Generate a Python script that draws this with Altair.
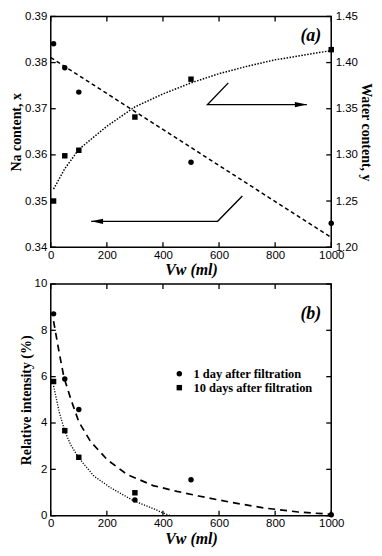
import altair as alt
import pandas as pd

# ---------------- Panel (a) data ----------------
vw_na = [10, 50, 100, 500, 1000]
na_content = [0.3841, 0.3789, 0.3736, 0.3584, 0.3452]
vw_water = [10, 50, 100, 300, 500, 1000]
water_content = [1.250, 1.299, 1.305, 1.341, 1.382, 1.414]
na_fit_x = [0, 1000]
na_fit_y = [0.3811, 0.3421]
water_fit_x = [10, 50, 100, 200, 300, 400, 500, 600, 700, 800, 900, 1000]
water_fit_y = [1.263, 1.285, 1.306, 1.331, 1.352, 1.366, 1.378, 1.388, 1.396, 1.403, 1.408, 1.413]
arrow_right_x = [633, 559, 913]
arrow_right_y = [0.3756, 0.3709, 0.3709]
arrow_left_x = [683, 595, 144]
arrow_left_y = [0.3511, 0.3456, 0.3456]

# ---------------- Panel (b) data ----------------
vw_b1 = [10, 50, 100, 300, 500, 1000]
day1 = [8.71, 5.90, 4.58, 0.68, 1.55, 0.04]
vw_b10 = [10, 50, 100, 300]
day10 = [5.79, 3.67, 2.52, 0.99]
day1_fit_x = [10, 30, 47, 71, 100, 142, 201, 272, 365, 450, 527, 645, 763, 882, 1000]
day1_fit_y = [8.4, 7.04, 5.97, 5.05, 4.05, 3.2, 2.42, 1.78, 1.3, 1.05, 0.85, 0.57, 0.33, 0.16, 0.06]
day10_fit_x = [10, 30, 50, 71, 100, 154, 213, 296, 367, 400, 428]
day10_fit_y = [5.6, 4.48, 3.65, 3.06, 2.49, 1.71, 1.21, 0.64, 0.3, 0.12, 0.0]
series_names = ["1 day after filtration", "10 days after filtration"]

# ---------------- ticks ----------------
x_ticks = [0, 200, 400, 600, 800, 1000]
na_ticks = [0.34, 0.35, 0.36, 0.37, 0.38, 0.39]
water_ticks = [1.20, 1.25, 1.30, 1.35, 1.40, 1.45]
rel_ticks = [0, 2, 4, 6, 8, 10]

W, H1, H2 = 282, 232, 233
TL = 5
SANS = "Liberation Sans"
SERIF = "Liberation Serif"


def mk_axis(orient, values, fmt, title, label_pad=4, title_pad=1, italic=False, title_size=14):
    kw = dict(orient=orient, values=values, format=fmt, title=title, ticks=False,
              domain=False, grid=False, labelFont=SANS, labelFontSize=11.5,
              labelColor="black", labelPadding=label_pad, labelFlush=False,
              labelOverlap=False, titleFont=SERIF, titleFontSize=title_size,
              titleFontWeight="bold", titleColor="black", titlePadding=title_pad)
    if italic:
        kw["titleFontStyle"] = "italic"
    return alt.Axis(**kw)


x_scale = alt.Scale(domain=[0, 1000], nice=False, zero=False)
x_axis = mk_axis("bottom", x_ticks, "d", "Vw (ml)", label_pad=2, title_pad=1, italic=True, title_size=16)
na_scale = alt.Scale(domain=[0.34, 0.39], nice=False, zero=False)
na_axis = mk_axis("left", na_ticks, ".2f", "Na content, x", title_pad=1)
wa_scale = alt.Scale(domain=[1.20, 1.45], nice=False, zero=False)
wa_axis = mk_axis("right", water_ticks, ".2f", "Water content, y", title_pad=1)
rel_scale = alt.Scale(domain=[0, 10], nice=False, zero=False)
rel_axis = mk_axis("left", rel_ticks, "d", "Relative intensity (%)", title_pad=1)


def X(field="x"):
    return alt.X(f"{field}:Q", scale=x_scale, axis=x_axis)


def Yna():
    return alt.Y("y:Q", scale=na_scale, axis=na_axis)


def Ywa():
    return alt.Y("y:Q", scale=wa_scale, axis=wa_axis)


def Yrel():
    return alt.Y("y:Q", scale=rel_scale, axis=rel_axis)


# ---------- Panel (a) layers ----------
na_pts = alt.Chart(pd.DataFrame({"x": vw_na, "y": na_content})).mark_point(
    shape="circle", filled=True, color="black", size=30, opacity=1).encode(x=X(), y=Yna())
na_line = alt.Chart(pd.DataFrame({"x": na_fit_x, "y": na_fit_y})).mark_line(
    color="black", strokeWidth=1.5, strokeDash=[4, 3]).encode(x=X(), y=Yna())

arr_r = pd.DataFrame({"x": arrow_right_x, "y": arrow_right_y, "o": [0, 1, 2]})
arr_l = pd.DataFrame({"x": arrow_left_x, "y": arrow_left_y, "o": [0, 1, 2]})
arrow_r_line = alt.Chart(arr_r).mark_line(color="black", strokeWidth=1.4).encode(
    x=X(), y=Yna(), order="o:Q")
arrow_l_line = alt.Chart(arr_l).mark_line(color="black", strokeWidth=1.4).encode(
    x=X(), y=Yna(), order="o:Q")
arrow_r_head = alt.Chart(arr_r.iloc[[2]]).mark_point(
    shape="M0,0L-2,-0.45L-2,0.45Z", filled=True, color="black", size=144, opacity=1).encode(x=X(), y=Yna())
arrow_l_head = alt.Chart(arr_l.iloc[[2]]).mark_point(
    shape="M0,0L2,-0.45L2,0.45Z", filled=True, color="black", size=144, opacity=1).encode(x=X(), y=Yna())

na_tick_df = pd.DataFrame({"y": na_ticks})
na_ticks_l = alt.Chart(na_tick_df).mark_rule(color="black", strokeWidth=1.3).encode(
    y=Yna(), x=alt.value(0), x2=alt.value(TL))
xt_df = pd.DataFrame({"x": x_ticks})
xt_bot_a = alt.Chart(xt_df).mark_rule(color="black", strokeWidth=1.3).encode(
    x=X(), y=alt.value(H1), y2=alt.value(H1 - TL))
xt_top_a = alt.Chart(xt_df).mark_rule(color="black", strokeWidth=1.3).encode(
    x=X(), y=alt.value(0), y2=alt.value(TL))
label_a = alt.Chart(pd.DataFrame({"t": ["(a)"]})).mark_text(
    align="right", baseline="middle", font=SERIF, fontSize=18, fontWeight="bold",
    fontStyle="italic", color="black").encode(x=alt.value(W - 10), y=alt.value(20), text="t:N")

na_group = alt.layer(na_line, na_pts, arrow_r_line, arrow_l_line, arrow_r_head, arrow_l_head,
                     na_ticks_l, xt_bot_a, xt_top_a, label_a)

wa_pts = alt.Chart(pd.DataFrame({"x": vw_water, "y": water_content})).mark_point(
    shape="square", filled=True, color="black", size=30, opacity=1).encode(x=X(), y=Ywa())
wa_line = alt.Chart(pd.DataFrame({"x": water_fit_x, "y": water_fit_y})).mark_line(
    color="black", strokeWidth=1.5, strokeDash=[1.5, 1.5]).encode(x=X(), y=Ywa())
wa_ticks_r = alt.Chart(pd.DataFrame({"y": water_ticks})).mark_rule(color="black", strokeWidth=1.3).encode(
    y=Ywa(), x=alt.value(W - TL), x2=alt.value(W))
wa_group = alt.layer(wa_line, wa_pts, wa_ticks_r)

top = alt.layer(na_group, wa_group).resolve_scale(y="independent").properties(width=W, height=H1)

# ---------- Panel (b) layers ----------
pts_b = pd.DataFrame({
    "x": vw_b1 + vw_b10,
    "y": day1 + day10,
    "series": [series_names[0]] * len(vw_b1) + [series_names[1]] * len(vw_b10),
})
b_pts = alt.Chart(pts_b).mark_point(filled=True, color="black", size=30, opacity=1).encode(
    x=X(), y=Yrel(),
    shape=alt.Shape("series:N", scale=alt.Scale(domain=series_names, range=["circle", "square"]),
                    legend=alt.Legend(orient="none", legendX=123, legendY=353, title=None,
                                      labelFont=SERIF, labelFontSize=12.5, labelFontWeight="bold",
                                      labelColor="black", symbolFillColor="black",
                                      symbolStrokeWidth=0, symbolSize=30, labelOffset=8,
                                      rowPadding=1, padding=0)))
b_line1 = alt.Chart(pd.DataFrame({"x": day1_fit_x, "y": day1_fit_y})).mark_line(
    color="black", strokeWidth=1.7, strokeDash=[7, 5]).encode(x=X(), y=Yrel())
b_line10 = alt.Chart(pd.DataFrame({"x": day10_fit_x, "y": day10_fit_y})).mark_line(
    color="black", strokeWidth=1.3, strokeDash=[1.2, 1.5]).encode(x=X(), y=Yrel())
rel_tick_df = pd.DataFrame({"y": rel_ticks})
rt_l = alt.Chart(rel_tick_df).mark_rule(color="black", strokeWidth=1.3).encode(
    y=Yrel(), x=alt.value(0), x2=alt.value(TL))
rt_r = alt.Chart(rel_tick_df).mark_rule(color="black", strokeWidth=1.3).encode(
    y=Yrel(), x=alt.value(W - TL), x2=alt.value(W))
xt_bot_b = alt.Chart(xt_df).mark_rule(color="black", strokeWidth=1.3).encode(
    x=X(), y=alt.value(H2), y2=alt.value(H2 - TL))
xt_top_b = alt.Chart(xt_df).mark_rule(color="black", strokeWidth=1.3).encode(
    x=X(), y=alt.value(0), y2=alt.value(TL))
label_b = alt.Chart(pd.DataFrame({"t": ["(b)"]})).mark_text(
    align="right", baseline="middle", font=SERIF, fontSize=18, fontWeight="bold",
    fontStyle="italic", color="black").encode(x=alt.value(W - 10), y=alt.value(30), text="t:N")

bottom = alt.layer(b_line1, b_line10, b_pts, rt_l, rt_r, xt_bot_b, xt_top_b, label_b).properties(
    width=W, height=H2)

chart = alt.vconcat(top, bottom, spacing=37, bounds="flush").properties(
    padding=0, background="white"
).configure_view(stroke="black", strokeWidth=1.5)

chart.save("out.html", embed_options={"renderer": "svg", "actions": False})
